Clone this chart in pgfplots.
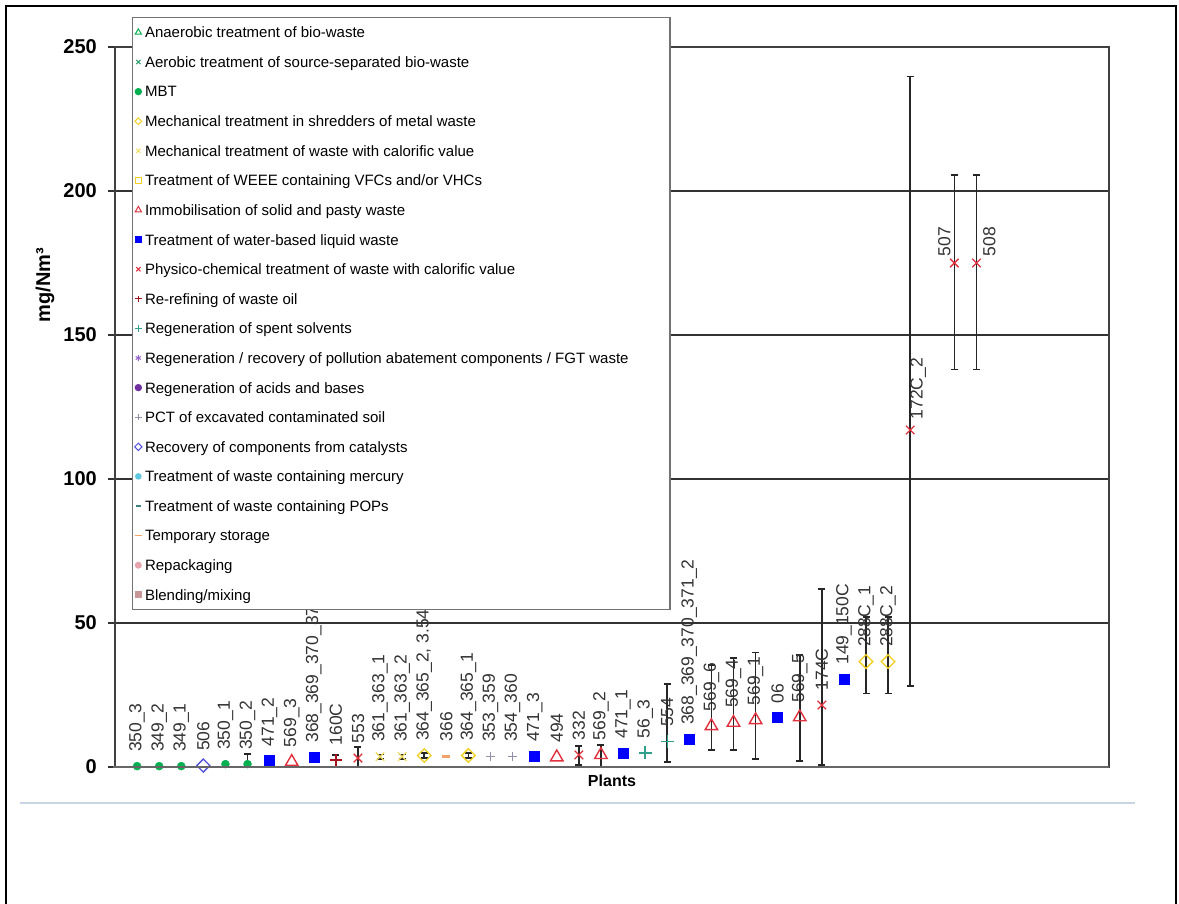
\documentclass[border=0pt]{standalone}
\usepackage{fontspec}
\setmainfont{Liberation Sans}
\usepackage{pgfplots}
\pgfplotsset{compat=1.18}
\definecolor{cgreen}{HTML}{00B050}
\definecolor{caero}{HTML}{2E9E6E}
\definecolor{cyellow}{HTML}{F2CE1E}
\definecolor{cyellowx}{HTML}{F0DC60}
\definecolor{cred}{HTML}{E2313D}
\definecolor{cblue}{HTML}{0000FF}
\definecolor{cdred}{HTML}{A3141C}
\definecolor{cteal}{HTML}{2FA08A}
\definecolor{cpurple}{HTML}{9A66CC}
\definecolor{cviolet}{HTML}{7030A0}
\definecolor{cgray}{HTML}{9090A8}
\definecolor{ccat}{HTML}{5050DC}
\definecolor{ccyan}{HTML}{5FC7DF}
\definecolor{cpops}{HTML}{3F7F7F}
\definecolor{corange}{HTML}{F2A468}
\definecolor{cpink}{HTML}{E6A3AE}
\definecolor{crose}{HTML}{C79696}
\definecolor{cframe}{HTML}{C9D3E6}
\definecolor{labgray}{HTML}{333333}
\newcommand{\legfont}{\fontsize{15}{18}\selectfont}
\newcommand{\lblfont}{\fontsize{17.5}{20}\selectfont}
\begin{document}
\begin{tikzpicture}[x=1pt,y=1pt]
\useasboundingbox (0,0) rectangle (1179,904);
\fill[white] (0,0) rectangle (1179,904);
\draw[black, line width=2pt] (6,0) -- (6,898) -- (1176,898) -- (1176,0);
\draw[cframe, line width=1.5pt] (20,101) -- (1135,101);
\begin{axis}[
  at={(115pt,137pt)}, anchor=south west,
  width=994pt, height=720pt, scale only axis,
  xmin=0, xmax=45, ymin=0, ymax=250,
  ytick={0,50,100,150,200,250}, xtick=\empty,
  ytick pos=left, tick align=outside, major tick length=7pt,
  tick style={black!80, line width=1.3pt},
  axis line style={black!75, line width=1.3pt},
  ymajorgrids, grid style={black!80, line width=1.3pt},
  /pgf/number format/assume math mode=true,
  yticklabel style={font=\bfseries\fontsize{20}{23}\selectfont, anchor=east, inner sep=0pt, xshift=-11pt},
  xlabel={Plants},
  every axis x label/.style={at={(axis description cs:0.5,0)}, anchor=north, inner sep=0pt, yshift=-8pt, font=\bfseries\fontsize{16}{19}\selectfont},
  ylabel={mg/Nm³},
  every axis y label/.style={at={(axis description cs:-0.0704,0.669)}, anchor=center, rotate=90, font=\bfseries\fontsize{20}{23}\selectfont},
  clip=false,
  every node near coord/.append style={rotate=90, anchor=west, font=\lblfont, text=labgray, inner sep=0pt, xshift=14pt},
  lab/.style={forget plot, only marks, nodes near coords, point meta=explicit symbolic},
  legend cell align=left,
  legend image code/.code={\draw[#1] plot coordinates {(0pt,0pt)};},
  legend style={at={(axis description cs:0.0171,1.0417)}, anchor=north west,
    draw=black!55, line width=1.3pt, fill=white, inner xsep=2pt, inner ysep=0pt,
    font=\legfont, column sep=3pt,
    nodes={inner sep=0pt, minimum height=29.6pt, text depth=0pt}},
  after end axis/.code={\draw[black!60, line width=2.6pt] (rel axis cs:-0.002,0) -- (rel axis cs:1,0);},
]
% MBT
\addplot[lab, mark=*, mark size=4pt, color=cgreen] table[x=x,y=y,meta=l] {
x y l
1 0.3 350\_3
2 0.3 349\_2
3 0.3 349\_1
5 1.0 350\_1
6 1.0 350\_2
};
% Recovery of components from catalysts
\addplot[lab, mark=square, mark size=4.6pt, mark options={rotate=45}, color=ccat, line width=1.3pt] table[x=x,y=y,meta=l] {
x y l
4 0.5 506
};
% Water-based liquid waste
\addplot[lab, mark=square*, mark size=5pt, color=cblue] table[x=x,y=y,meta=l] {
x y l
7 2.2 471\_2
9 3.5 368\_369\_370\_371\_1
19 3.8 471\_3
23 4.9 471\_1
26 9.7 368\_369\_370\_371\_2
30 17.2 06
33 30.6 149\_150C
};
% Immobilisation
\addplot[lab, mark=triangle, mark size=7.2pt, color=cred, line width=1.4pt] table[x=x,y=y,meta=l] {
x y l
8 1.8 569\_3
20 3.4 494
22 4.2 569\_2
27 14.2 569\_6
28 15.4 569\_4
29 16.3 569\_1
31 17.3 569\_5
};
% Re-refining of waste oil
\addplot[lab, mark=+, mark size=6pt, color=cdred, line width=1.5pt] table[x=x,y=y,meta=l] {
x y l
10 2.4 160C
};
% Physico-chemical
\addplot[lab, mark=x, mark size=6pt, color=cred, line width=1.3pt] table[x=x,y=y,meta=l] {
x y l
11 3.1 553
21 4.2 332
32 21.5 174C
};
\addplot[lab, mark=x, mark size=6pt, color=cred, line width=1.3pt, every node near coord/.append style={xshift=-4pt, yshift=-8pt}] table[x=x,y=y,meta=l] {
x y l
36 117 172C\_2
};
\addplot[lab, mark=x, mark size=6pt, color=cred, line width=1.3pt, every node near coord/.append style={xshift=-8pt, yshift=10pt}] table[x=x,y=y,meta=l] {
x y l
38 175 507
};
\addplot[lab, mark=x, mark size=6pt, color=cred, line width=1.3pt, every node near coord/.append style={xshift=-8pt, yshift=-13pt}] table[x=x,y=y,meta=l] {
x y l
39 175 508
};
% Mechanical treatment of waste with calorific value
\addplot[lab, mark=x, mark size=6pt, color=cyellowx, line width=1.3pt] table[x=x,y=y,meta=l] {
x y l
12 3.6 361\_363\_1
13 3.6 361\_363\_2
};
% Shredders
\addplot[lab, mark=square, mark size=4.8pt, mark options={rotate=45}, color=cyellow, line width=1.3pt] table[x=x,y=y,meta=l] {
x y l
14 4.0 364\_365\_2,~3.54
16 4.0 364\_365\_1
34 36.6 288C\_1
35 36.6 288C\_2
};
% Temporary storage
\addplot[lab, mark=-, mark size=4pt, color=corange, line width=3pt] table[x=x,y=y,meta=l] {
x y l
15 3.6 366
};
% PCT soil
\addplot[lab, mark=+, mark size=4.5pt, color=cgray, line width=1.3pt] table[x=x,y=y,meta=l] {
x y l
17 3.6 353\_359
18 3.6 354\_360
};
% Spent solvents
\addplot[lab, mark=+, mark size=6.5pt, color=cteal, line width=1.3pt] table[x=x,y=y,meta=l] {
x y l
24 4.9 56\_3
25 8.8 554
};
% Error bars
\addplot[forget plot, draw=none, mark=none,
  error bars/.cd, y dir=both, y explicit,
  error bar style={draw=black!85, line width=1.6pt},
  error mark options={rotate=90, draw=black!85, mark size=3.5pt, line width=1.5pt}]
  table[x=x, y=y, y error minus=em, y error plus=ep] {
x y em ep
6 1.0 0.5 3.5
10 2.4 2.4 1.8
11 3.1 3.1 3.9
12 3.6 0.8 0.8
13 3.6 0.8 0.8
14 4.0 0.8 0.8
16 4.0 0.8 0.8
21 4.2 3.5 3.1
22 4.2 4.2 3.4
25 8.8 7.1 20.0
27 14.2 8.3 21.2
28 15.4 9.5 22.4
29 16.3 13.5 23.4
31 17.3 15.2 21.6
32 21.5 20.8 40.3
34 36.6 11.1 15.4
35 36.6 11.1 15.4
36 117 88.9 122.7
38 175 37 30.5
39 175 37 30.5
};
% Legend
\addlegendimage{mark=triangle, mark size=3.6pt, cgreen, line width=1pt}
\addlegendentry{Anaerobic treatment of bio-waste}
\addlegendimage{mark=x, mark size=3pt, caero, line width=1pt}
\addlegendentry{Aerobic treatment of source-separated bio-waste}
\addlegendimage{mark=*, mark size=3pt, cgreen}
\addlegendentry{MBT}
\addlegendimage{mark=square, mark options={rotate=45}, mark size=2.4pt, cyellow, line width=1pt}
\addlegendentry{Mechanical treatment in shredders of metal waste}
\addlegendimage{mark=x, mark size=3pt, cyellowx, line width=1pt}
\addlegendentry{Mechanical treatment of waste with calorific value}
\addlegendimage{mark=square, mark size=3pt, cyellow, line width=1pt}
\addlegendentry{Treatment of WEEE containing VFCs and/or VHCs}
\addlegendimage{mark=triangle, mark size=3.6pt, cred, line width=1pt}
\addlegendentry{Immobilisation of solid and pasty waste}
\addlegendimage{mark=square*, mark size=3pt, cblue}
\addlegendentry{Treatment of water-based liquid waste}
\addlegendimage{mark=x, mark size=3pt, cred, line width=1pt}
\addlegendentry{Physico-chemical treatment of waste with calorific value}
\addlegendimage{mark=+, mark size=3.2pt, cdred, line width=1.2pt}
\addlegendentry{Re-refining of waste oil}
\addlegendimage{mark=+, mark size=3.2pt, cteal, line width=1pt}
\addlegendentry{Regeneration of spent solvents}
\addlegendimage{mark=asterisk, mark size=3pt, cpurple, line width=1pt}
\addlegendentry{\makebox[523pt][l]{Regeneration / recovery of pollution abatement components / FGT waste}}
\addlegendimage{mark=*, mark size=3pt, cviolet}
\addlegendentry{Regeneration of acids and bases}
\addlegendimage{mark=+, mark size=3.2pt, cgray, line width=1pt}
\addlegendentry{PCT of excavated contaminated soil}
\addlegendimage{mark=square, mark options={rotate=45}, mark size=2.6pt, ccat, line width=1pt}
\addlegendentry{Recovery of components from catalysts}
\addlegendimage{mark=*, mark size=2.6pt, ccyan}
\addlegendentry{Treatment of waste containing mercury}
\addlegendimage{mark=-, mark size=2.5pt, cpops, line width=1.3pt}
\addlegendentry{Treatment of waste containing POPs}
\addlegendimage{mark=-, mark size=3.2pt, corange, line width=1.5pt}
\addlegendentry{Temporary storage}
\addlegendimage{mark=*, mark size=2.8pt, cpink}
\addlegendentry{Repackaging}
\addlegendimage{mark=square*, mark size=3pt, crose}
\addlegendentry{Blending/mixing}
\end{axis}
\end{tikzpicture}
\end{document}
